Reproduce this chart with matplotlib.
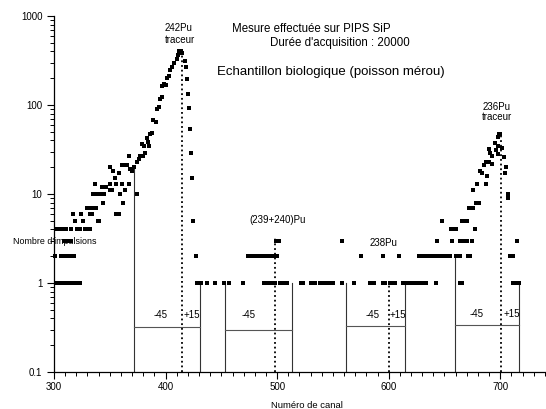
import matplotlib
matplotlib.use("Agg")
import matplotlib.pyplot as plt
from matplotlib.ticker import FixedLocator, NullFormatter, LogLocator

plt.rcParams['font.family'] = ['Liberation Sans', 'DejaVu Sans']

# ---- data: (channel, counts) ----
ch_low = [303, 305, 307, 309, 311, 313, 315, 317, 319, 321, 323,
          301, 306, 310, 312, 314, 316, 318,
          309, 311, 313, 315,
          303, 305, 307, 309, 311, 315, 321, 323, 328, 330, 332,
          319, 326, 339, 340,
          317, 324, 332, 334, 356, 358,
          330, 332, 335, 338,
          344, 362,
          335, 338, 341, 345, 359, 374,
          350, 352, 364,
          343, 347,
          337, 350, 356, 361, 367,
          355, 358, 353, 350, 361, 363, 365]
n_low = [1, 1, 1, 1, 1, 1, 1, 1, 1, 1, 1,
         2, 2, 2, 2, 2, 2, 2,
         3, 3, 3, 3,
         4, 4, 4, 4, 4, 4, 4, 4, 4, 4, 4,
         5, 5, 5, 5,
         6, 6, 6, 6, 6, 6,
         7, 7, 7, 7,
         8, 8,
         10, 10, 10, 10, 10, 10,
         11, 11, 11,
         12, 12,
         13, 13, 13, 13, 13,
         15, 17, 18, 20, 21, 21, 21]

ch_242 = [367, 368, 370, 372, 374, 376, 377, 379, 380, 382, 379, 381, 384, 385,
          383, 386, 388, 389, 391, 392, 394, 395, 397, 397, 399, 400, 401, 403,
          404, 406, 408, 410, 411, 412, 413, 414, 415, 417, 418, 419, 420, 421,
          422, 423, 424, 425, 427]
n_242 = [27, 19, 18, 20, 23, 25, 27, 27, 27, 29, 36, 35, 38, 35,
         43, 47, 49, 67, 64, 90, 94, 117, 122, 162, 170, 167, 200, 213,
         245, 265, 300, 330, 360, 400, 395, 400, 380, 315, 265, 196, 133, 93,
         54, 29, 15, 5, 2]

ch_mid = [428, 429, 430, 431, 432, 437, 444, 452, 457, 469,
          488, 490, 492, 494, 496, 498, 503, 505, 507, 509,
          521, 523, 530, 532, 534, 538, 540, 542, 544, 546, 548, 550,
          558, 569, 583, 585, 587, 595, 597, 601, 603, 606,
          613, 615, 617, 619, 621, 623, 625, 627, 629, 631, 633, 642,
          474, 476, 478, 481, 483, 485, 487, 490, 492, 494, 496, 498, 500,
          575, 595, 609,
          499, 501, 502, 558]
n_mid = [1, 1, 1, 1, 1, 1, 1, 1, 1, 1,
         1, 1, 1, 1, 1, 1, 1, 1, 1, 1,
         1, 1, 1, 1, 1, 1, 1, 1, 1, 1, 1, 1,
         1, 1, 1, 1, 1, 1, 1, 1, 1, 1,
         1, 1, 1, 1, 1, 1, 1, 1, 1, 1, 1, 1,
         2, 2, 2, 2, 2, 2, 2, 2, 2, 2, 2, 2, 2,
         2, 2, 2,
         3, 3, 3, 3]

ch_236 = [627, 629, 631, 633, 635, 637, 639, 641, 643, 645, 647, 649, 651, 653, 655,
          660, 662, 664, 671, 673,
          664, 666, 711, 713, 715, 717,
          643, 657, 664, 666, 668, 670, 675, 715,
          656, 658, 660, 677,
          648, 666, 668, 670,
          672, 674, 676, 681,
          676, 678, 679, 682, 684, 685, 687, 687, 688, 690, 690, 691, 693, 693,
          695, 696, 698, 698, 698, 699, 700, 702, 703, 704, 705, 707, 707,
          709, 711]
n_236 = [2, 2, 2, 2, 2, 2, 2, 2, 2, 2, 2, 2, 2, 2, 2,
         2, 2, 2, 2, 2,
         1, 1, 1, 1, 1, 1,
         3, 3, 3, 3, 3, 3, 3, 3,
         4, 4, 4, 4,
         5, 5, 5, 5,
         7, 7, 7, 8,
         11, 8, 13, 18, 17, 21, 23, 13, 16, 23, 32, 29, 27, 22,
         37, 31, 44, 35, 28, 47, 47, 33, 26, 17, 20, 10, 9,
         2, 2]

# ROI markers (regions of interest) and peak positions
roi_start = [372, 453, 562, 659]
roi_end = [431, 513, 615, 717]
roi_level = [0.32, 0.30, 0.33, 0.34]
roi_start_top = [19, 1, 1, 2]
roi_end_top = [1, 1, 1, 1]
peak_ch = [415, 498, 600, 700.5]
peak_top = [370, 3.2, 1, 45]

x_ticks = [300, 400, 500, 600, 700]
y_ticks = [0.1, 1, 10, 100, 1000]
y_tick_labels = ['0.1', '1', '10', '100', '1000']

fig = plt.figure(figsize=(5.46, 4.09), dpi=100)
ax = fig.add_axes([54 / 546, 37 / 409, 492 / 546, 356 / 409])
ax.set_yscale('log')
ax.set_xlim(300, 741)
ax.set_ylim(0.1, 1000)

for xs, ys in [(ch_low, n_low), (ch_242, n_242), (ch_mid, n_mid), (ch_236, n_236)]:
    ax.plot(xs, ys, linestyle='none', marker='s', ms=2.4, color='black',
            markeredgewidth=0, clip_on=False, zorder=3)

for s, e, lv, st, et in zip(roi_start, roi_end, roi_level, roi_start_top, roi_end_top):
    ax.plot([s, s], [0.1, st], color='#333333', lw=0.8)
    ax.plot([e, e], [0.1, et], color='#333333', lw=0.8)
    ax.plot([s, e], [lv, lv], color='#555555', lw=0.8)

for pc, pt in zip(peak_ch, peak_top):
    ax.plot([pc, pc], [0.1, pt], color='black', lw=1.3, linestyle=(0, (1, 1.6)))

fs = 7
ax.text(395.5, 0.44, '-45', fontsize=fs, ha='center', va='center')
ax.text(423.5, 0.44, '+15', fontsize=fs, ha='center', va='center')
ax.text(474, 0.44, '-45', fontsize=fs, ha='center', va='center')
ax.text(585.5, 0.44, '-45', fontsize=fs, ha='center', va='center')
ax.text(608.5, 0.44, '+15', fontsize=fs, ha='center', va='center')
ax.text(679, 0.45, '-45', fontsize=fs, ha='center', va='center')
ax.text(710, 0.45, '+15', fontsize=fs, ha='center', va='center')

ax.text(412, 730, '242Pu', fontsize=fs, ha='center', va='center')
ax.text(413, 540, 'traceur', fontsize=fs, ha='center', va='center')
ax.text(697, 95, '236Pu', fontsize=fs, ha='center', va='center')
ax.text(697, 73, 'traceur', fontsize=fs, ha='center', va='center')
ax.text(500, 5.1, '(239+240)Pu', fontsize=fs, ha='center', va='center')
ax.text(595, 2.8, '238Pu', fontsize=fs, ha='center', va='center')

fig.text(232 / 546, 1 - 29 / 409, 'Mesure effectuée sur PIPS SiP', fontsize=8.3,
         ha='left', va='center')
fig.text(270 / 546, 1 - 43 / 409, "Durée d'acquisition : 20000", fontsize=8.3,
         ha='left', va='center')
fig.text(217 / 546, 1 - 72 / 409, 'Echantillon biologique (poisson mérou)', fontsize=9.5,
         ha='left', va='center')
fig.text(13 / 546, 1 - 241 / 409, "Nombre d'impulsions", fontsize=6.4,
         ha='left', va='center')
fig.text(307 / 546, 1 - 405 / 409, 'Numéro de canal', fontsize=6.8,
         ha='center', va='center')

for side in ['top', 'right']:
    ax.spines[side].set_visible(False)
for side in ['left', 'bottom']:
    ax.spines[side].set_linewidth(0.9)

ax.set_xticks(x_ticks)
ax.set_xticklabels([str(v) for v in x_ticks])
ax.xaxis.set_minor_locator(FixedLocator(list(range(300, 741, 10))))
ax.set_yticks(y_ticks)
ax.set_yticklabels(y_tick_labels)
ax.yaxis.set_minor_locator(LogLocator(base=10, subs=range(2, 10)))
ax.yaxis.set_minor_formatter(NullFormatter())
ax.tick_params(which='major', direction='out', length=4.8, width=0.8, labelsize=7, pad=2.5)
ax.tick_params(which='minor', direction='out', length=2.6, width=0.7)
ax.tick_params(axis='y', which='major', pad=3.5)

fig.savefig('out.png', dpi=100)
